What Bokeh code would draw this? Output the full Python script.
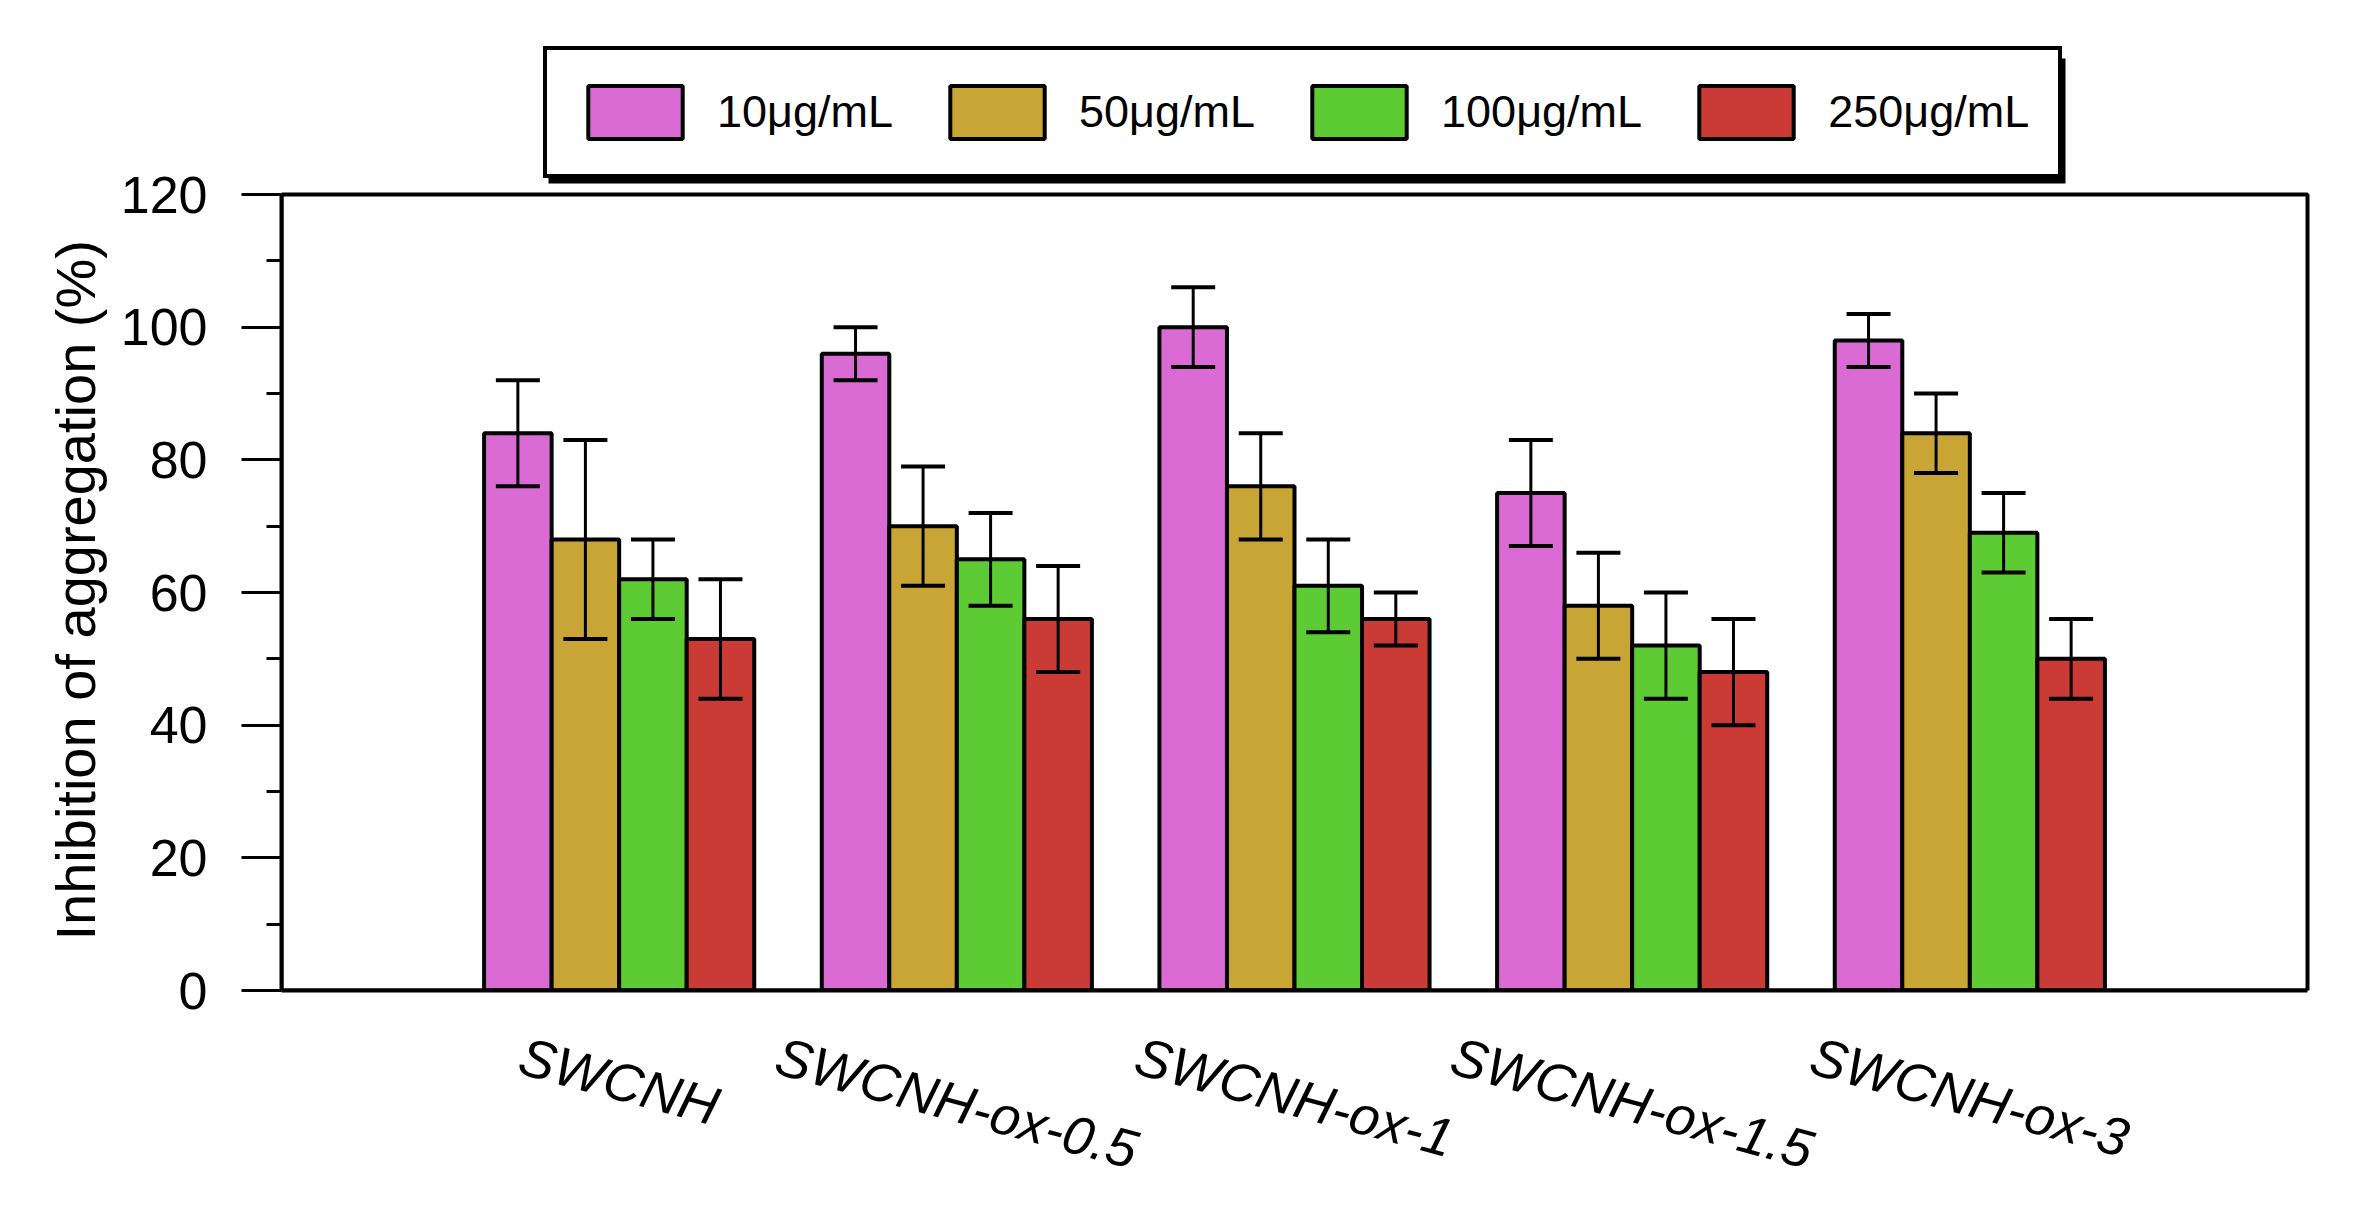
import math

from bokeh.embed import file_html
from bokeh.models import (BoxAnnotation, ColumnDataSource, CustomJSTickFormatter,
                          FixedTicker, Legend, LegendItem, Range1d, TeeHead,
                          Title, Whisker)
from bokeh.plotting import figure
from bokeh.resources import INLINE

# Inhibition of aggregation (%) for each nanohorn sample and dose
samples = ["SWCNH", "SWCNH-ox-0.5", "SWCNH-ox-1", "SWCNH-ox-1.5", "SWCNH-ox-3"]
doses = ["10μg/mL", "50μg/mL", "100μg/mL", "250μg/mL"]

inh_10 = [84, 96, 100, 75, 98]
inh_50 = [68, 70, 76, 58, 84]
inh_100 = [62, 65, 61, 52, 69]
inh_250 = [53, 56, 56, 48, 50]

err_10 = [8, 4, 6, 8, 4]
err_50 = [15, 9, 8, 8, 6]
err_100 = [6, 7, 7, 8, 6]
err_250 = [9, 8, 4, 8, 6]

y_ticks = [0, 20, 40, 60, 80, 100, 120]

colors = ["#DA6AD4", "#C9A535", "#5CCB34", "#C93B34"]
FONT = "Liberation Sans"

series = [inh_10, inh_50, inh_100, inh_250]
errors = [err_10, err_50, err_100, err_250]

# Page geometry (px).  The axes box spans AX_L..AX_R and AX_T..AX_B; the
# frame itself reaches higher so the legend above the box stays visible.
W, H = 2380, 1212
AX_L, AX_R, AX_T, AX_B = 281, 2307, 194, 990
TOP_PAD = 20
RIGHT_PAD = 4
x_max = len(samples) + 1
y_max = y_ticks[-1]

px_per_x = (AX_R - AX_L) / x_max
px_per_y = (AX_B - AX_T) / y_max


def dx(px):
    return (px - AX_L) / px_per_x


def dy(py):
    return (AX_B - py) / px_per_y


p = figure(
    width=W, height=H,
    min_border_left=AX_L, min_border_right=W - AX_R - RIGHT_PAD,
    min_border_top=TOP_PAD, min_border_bottom=H - AX_B,
    x_range=Range1d(0, x_max + RIGHT_PAD / px_per_x),
    y_range=Range1d(0, y_max + (AX_T - TOP_PAD) / px_per_y),
    output_backend="svg", toolbar_location=None,
)
p.xgrid.visible = False
p.ygrid.visible = False
p.background_fill_color = "white"
p.border_fill_color = "white"
p.outline_line_color = None

# closed box around the data area
p.add_layout(BoxAnnotation(left=0, right=x_max, bottom=0, top=y_max,
                           fill_color=None, fill_alpha=0,
                           line_color="black", line_alpha=1.0, line_width=4,
                           level="overlay"))

# ---- y axis
yax = p.yaxis[0]
yax.bounds = (0, y_max)
yax.ticker = FixedTicker(
    ticks=y_ticks,
    minor_ticks=[(a + b) / 2 for a, b in zip(y_ticks[:-1], y_ticks[1:])],
)
yax.axis_line_width = 4
yax.major_tick_line_width = 3
yax.minor_tick_line_width = 3
yax.major_tick_out = 40
yax.major_tick_in = 0
yax.minor_tick_out = 15
yax.minor_tick_in = 0
yax.major_label_text_font = FONT
yax.major_label_text_font_size = "52px"
yax.major_label_text_color = "black"
yax.major_label_standoff = 34

# y title, starting a little above the bottom of the box
p.add_layout(Title(
    text="Inhibition of aggregation (%)", align="left",
    offset=50, standoff=22,
    text_font=FONT, text_font_size="56px", text_font_style="normal",
    text_color="black",
), "left")

# ---- x axis: sample names, italic and tilted, centred under each group.
# Tilted labels start at their tick, so each tick sits half a label width
# to the left of the group centre.
ARIAL_W = {"S": .667, "W": .944, "C": .722, "N": .722, "H": .722, "-": .333,
           "o": .556, "x": .5, ".": .278}
lab_size = 54
theta = math.radians(15)
label_ticks = []
for i, name in enumerate(samples):
    w = sum(ARIAL_W.get(ch, .556) for ch in name) * lab_size
    label_ticks.append(i + 1 - (w / 2) * math.cos(theta) / px_per_x)

xax = p.xaxis[0]
xax.bounds = (0, x_max)
xax.ticker = FixedTicker(ticks=label_ticks, minor_ticks=[])
xax.formatter = CustomJSTickFormatter(args=dict(names=samples),
                                      code="return names[index]")
xax.major_label_orientation = -theta
xax.major_tick_line_color = None
xax.minor_tick_line_color = None
xax.axis_line_width = 4
xax.major_label_text_font = FONT
xax.major_label_text_font_style = "italic"
xax.major_label_text_font_size = f"{lab_size}px"
xax.major_label_text_color = "black"
xax.major_label_standoff = 58

# ---- bars and error bars
bar_w = 0.2
items = []
for k, (vals, errs) in enumerate(zip(series, errors)):
    xs = [i + 1 + (k - (len(series) - 1) / 2) * bar_w for i in range(len(samples))]
    src = ColumnDataSource(dict(
        x=xs, top=vals,
        upper=[v + e for v, e in zip(vals, errs)],
        lower=[v - e for v, e in zip(vals, errs)],
    ))
    r = p.vbar(x="x", top="top", bottom=0, width=bar_w, source=src,
               fill_color=colors[k], line_color="black", line_width=4)
    items.append(LegendItem(label=doses[k], renderers=[r]))
    wh = Whisker(source=src, base="x", upper="upper", lower="lower",
                 line_color="black", line_width=3, level="overlay",
                 upper_head=TeeHead(size=44, line_color="black", line_width=4),
                 lower_head=TeeHead(size=44, line_color="black", line_width=4))
    p.add_layout(wh)

# ---- legend above the axes box, with a drop shadow
LEG_L, LEG_R, LEG_T, LEG_B = 543, 2060, 53, 178
SHADOW = 5
p.add_layout(BoxAnnotation(left=dx(LEG_L + SHADOW), right=dx(LEG_R + SHADOW),
                           top=dy(LEG_T + SHADOW), bottom=dy(LEG_B + SHADOW),
                           fill_color="black", fill_alpha=1.0,
                           line_color=None, level="overlay"))

# bar swatches are drawn inset by a tenth of the glyph box on each side
legend = Legend(
    items=items, orientation="horizontal",
    location=(LEG_L - AX_L, AX_B - LEG_B), margin=0, padding=29,
    glyph_width=118, glyph_height=66, label_height=50,
    label_standoff=23, spacing=45,
    label_text_font=FONT, label_text_font_size="45px",
    label_text_color="black", label_text_baseline="middle",
    border_line_color="black", border_line_width=4, border_line_alpha=1.0,
    background_fill_color="white", background_fill_alpha=1.0,
)
p.add_layout(legend)

open("out.html", "w").write(file_html(p, INLINE))
